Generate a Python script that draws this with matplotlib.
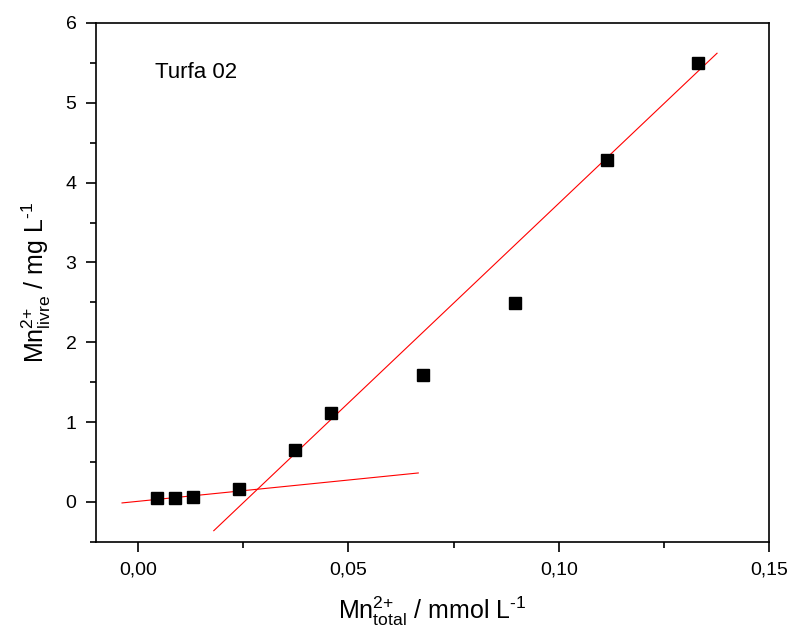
import numpy as np
import matplotlib
matplotlib.use("Agg")
import matplotlib.pyplot as plt
from matplotlib.ticker import MultipleLocator, FuncFormatter

# Mn2+ total vs livre, amostra Turfa 02
mn_total = [0.0045, 0.0088, 0.0131, 0.0240, 0.0373, 0.0459, 0.0677, 0.0896, 0.1115, 0.1331]
mn_livre = [0.05, 0.05, 0.06, 0.16, 0.65, 1.12, 1.59, 2.49, 4.28, 5.50]

# retas ajustadas (inclinação, intercepto) e intervalo em x
fit_low = (5.33, 0.008)
fit_low_x = [-0.0038, 0.0666]
fit_high = (50.0, -1.26)
fit_high_x = [0.018, 0.1376]

plt.rcParams['font.family'] = ['Liberation Sans', 'DejaVu Sans']
plt.rcParams['mathtext.fontset'] = 'custom'
plt.rcParams['mathtext.rm'] = 'Liberation Sans'
plt.rcParams['mathtext.it'] = 'Liberation Sans:italic'
plt.rcParams['mathtext.default'] = 'regular'

fig = plt.figure(figsize=(7.93, 6.36), dpi=100)
ax = fig.add_axes([0.121, 0.148, 0.849, 0.816])

ax.plot(mn_total, mn_livre, 's', color='black', markersize=8.5, zorder=3)

for (a, b), xs in [(fit_low, fit_low_x), (fit_high, fit_high_x)]:
    xs = np.array(xs)
    ax.plot(xs, a * xs + b, color='red', linewidth=0.8, zorder=2)

ax.set_xlim(-0.01, 0.15)
ax.set_ylim(-0.5, 6)
ax.xaxis.set_major_locator(MultipleLocator(0.05))
ax.xaxis.set_minor_locator(MultipleLocator(0.025))
ax.yaxis.set_major_locator(MultipleLocator(1))
ax.yaxis.set_minor_locator(MultipleLocator(0.5))
ax.xaxis.set_major_formatter(FuncFormatter(lambda v, p: f"{v:.2f}".replace('.', ',')))
ax.yaxis.set_major_formatter(FuncFormatter(lambda v, p: f"{v:.0f}"))

ax.tick_params(which='both', direction='out', top=False, right=False, width=1.2)
ax.tick_params(which='major', length=7, labelsize=14, pad=7)
ax.tick_params(which='minor', length=4)
for s in ax.spines.values():
    s.set_linewidth(1.2)

ax.set_xlabel(r'Mn$^{2\text{+}}_{total}$ / mmol L$^{\text{-}1}$', fontsize=18, labelpad=12)
ax.set_ylabel(r'Mn$^{2\text{+}}_{livre}$ / mg L$^{\text{-}1}$', fontsize=18, labelpad=9)

ax.text(0.088, 0.905, 'Turfa 02', transform=ax.transAxes, fontsize=16, va='center', ha='left')

fig.savefig('out.png', dpi=100)
